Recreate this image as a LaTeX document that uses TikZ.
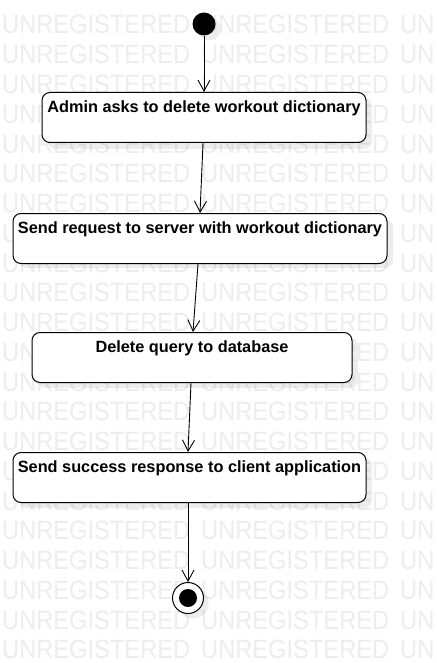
\documentclass[tikz,border=0pt]{standalone}
\usepackage{fontspec}
\setmainfont{Liberation Sans}
\usetikzlibrary{arrows.meta}
\newfontfamily\wmfamily{Liberation Sans}
\tikzset{
  x=1pt, y=-1pt,
  wm/.style={anchor=base west, inner sep=0pt, text=black!7, font=\wmfamily\fontsize{26.5}{30}\selectfont},
  actbox/.style={draw=black, line width=1pt, rounded corners=8pt, fill=white, anchor=north,
    inner xsep=0pt, inner ysep=0pt, text height=20pt, text depth=30pt,
    font=\bfseries\fontsize{16.3}{19}\selectfont},
  shadowbox/.style={fill=black, opacity=0.07, rounded corners=8pt},
  flow/.style={draw=black, line width=0.9pt, -{Straight Barb[length=11pt,width=12pt,line width=0.9pt]}}
}
\begin{document}
\begin{tikzpicture}
\useasboundingbox (0,0) rectangle (436,663);
\fill[white] (0,0) rectangle (436,663);
% watermark
\foreach \k in {0,...,21}{
  \node[wm] (wma\k) at (2,{34+29.76*\k}) {\scalebox{0.893}[1]{UNREGISTERED}};
  \node[wm] (wmb\k) at (201,{34+29.76*\k}) {\scalebox{0.893}[1]{UNREGISTERED}};
  \node[wm] (wmc\k) at (400,{34+29.76*\k}) {\scalebox{0.893}[1]{UN}};
}
% shadows
\fill[shadowbox] (48,98) rectangle (372,149);
\fill[shadowbox] (19,219) rectangle (393,268);
\fill[shadowbox] (38,338) rectangle (358,388);
\fill[shadowbox] (19,458) rectangle (372,508);
\fill[black, opacity=0.07] (209,29) circle (11.5);
\fill[black, opacity=0.07] (193,603) circle (15.5);
% nodes
\node[circle, fill=black, inner sep=0pt, minimum size=23pt] (start) at (204,24) {};
\node[actbox, minimum width=324pt] (b1) at (204,92) {Admin asks to delete workout dictionary};
\node[actbox, minimum width=374pt] (b2) at (200,213) {Send request to server with workout dictionary};
\node[actbox, minimum width=320pt] (b3) at (192,332) {Delete query to database};
\node[actbox, minimum width=353pt] (b4) at (189.5,452) {Send success response to client application};
\node[circle, draw=black, line width=1pt, fill=white, inner sep=0pt, minimum size=31pt] (final) at (188,598) {};
\node[circle, fill=black, inner sep=0pt, minimum size=18pt] (finaldot) at (final.center) {};
% flows
\draw[flow] (start) -- (b1.north);
\draw[flow] ([xshift=-1pt]b1.south) -- (b2.north);
\draw[flow] ([xshift=-2pt]b2.south) -- ([xshift=1pt]b3.north);
\draw[flow] ([xshift=-1pt]b3.south) -- ([xshift=-1.5pt]b4.north);
\draw[flow] ([xshift=-1.5pt]b4.south) -- (final);
\end{tikzpicture}
\end{document}
